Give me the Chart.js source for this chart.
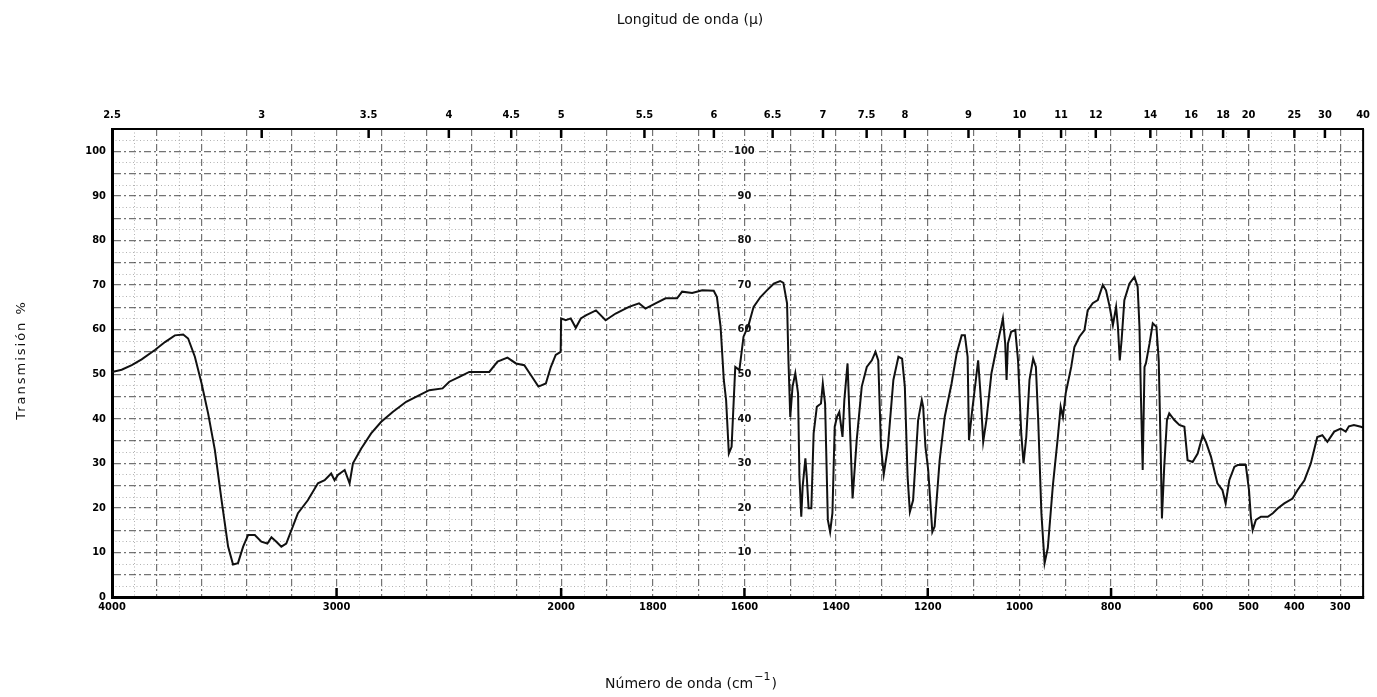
<!DOCTYPE html>
<html><head><meta charset="utf-8">
<script src="https://cdn.jsdelivr.net/npm/chart.js@4.4.1/dist/chart.umd.min.js"></script>
<style>html,body{margin:0;padding:0;background:#fff;}</style>
</head><body>
<canvas id="c" width="1377" height="697"></canvas>
<script>
// Wavenumber (cm-1) and % transmission
const wavenumbers = [4000,3957,3912,3868,3809,3764,3720,3683,3661,3631,3601,3572,3542,3512,3483,3461,3439,3416,3394,3364,3335,3308,3290,3268,3246,3224,3201,3172,3128,3083,3053,3024,3009,2994,2964,2942,2927,2890,2846,2801,2750,2690,2631,2587,2528,2498,2453,2409,2320,2283,2239,2201,2164,2135,2101,2068,2046,2024,2002,2000,1990,1979,1968,1957,1946,1924,1903,1881,1852,1830,1816,1794,1772,1747,1736,1714,1692,1667,1660,1652,1645,1640,1634,1628,1620,1611,1602,1591,1580,1565,1551,1536,1522,1515,1507,1504,1500,1495,1489,1483,1480,1476,1473,1467,1464,1460,1454,1449,1442,1433,1429,1424,1418,1413,1408,1403,1398,1393,1386,1382,1375,1369,1364,1355,1344,1333,1322,1314,1308,1302,1296,1287,1275,1264,1256,1250,1244,1239,1232,1221,1213,1210,1205,1199,1190,1185,1174,1163,1148,1137,1126,1119,1113,1110,1103,1096,1090,1084,1079,1072,1061,1050,1039,1036,1031,1028,1025,1018,1009,1003,996,991,985,978,970,964,959,952,945,938,927,916,910,905,899,887,880,869,858,851,840,829,818,811,803,796,789,785,781,777,771,760,749,742,738,735,731,727,724,716,709,701,696,692,689,684,678,673,662,651,640,633,622,611,600,593,582,568,557,550,542,531,524,506,499,495,491,484,473,458,447,436,422,404,393,378,364,350,339,328,313,299,288,281,270,255,250];
const transmission = [50.5,51.0,52.0,53.3,55.4,57.2,58.7,58.9,58.0,53.9,47.9,41.2,33.0,21.7,11.3,7.3,7.6,11.3,13.9,13.9,12.4,12.0,13.4,12.4,11.3,12.0,15.0,18.8,21.7,25.5,26.2,27.7,26.2,27.4,28.5,25.5,30.0,33.3,36.7,39.3,41.5,43.8,45.3,46.4,46.8,48.3,49.4,50.5,50.5,52.8,53.7,52.4,52.0,49.8,47.2,47.9,51.6,54.3,55.0,62.5,62.1,62.5,60.4,62.5,63.2,64.3,62.1,63.6,65.1,65.9,64.7,65.9,67.0,67.0,68.5,68.2,68.8,68.7,67.3,60.6,48.7,44.2,32.2,33.7,51.6,50.9,58.4,61.0,65.1,67.3,68.8,70.3,70.9,70.5,65.9,53.1,40.4,47.2,50.2,45.7,27.0,18.0,24.7,31.1,27.0,19.9,19.9,36.7,42.7,43.4,47.9,43.4,17.3,14.6,18.8,38.2,40.4,41.5,35.9,44.2,52.4,35.9,22.1,35.2,47.2,51.6,53.1,55.0,53.1,33.7,27.5,33.7,48.7,53.9,53.5,47.2,27.0,19.1,21.7,39.7,44.2,42.7,33.7,28.5,14.6,15.8,30.7,40.4,47.9,54.6,58.7,58.7,53.9,35.2,41.9,47.9,53.1,44.2,34.8,39.7,50.2,55.8,61.0,62.5,56.9,48.7,56.9,59.5,59.9,53.1,36.7,30.0,35.9,48.7,53.5,51.6,39.7,18.8,7.6,11.0,25.0,36.0,42.7,40.4,45.7,51.6,56.1,58.4,59.9,64.3,65.9,66.6,70.0,68.8,65.1,61.0,65.1,60.6,53.1,57.6,66.6,70.3,71.8,69.6,60.6,45.7,28.5,51.6,52.4,56.9,61.4,60.6,53.1,34.5,17.6,29.2,39.7,41.2,39.7,38.6,38.2,30.7,30.3,32.2,36.3,34.8,31.5,25.5,24.0,21.0,26.2,29.2,29.6,29.6,24.0,18.0,15.0,17.3,18.0,18.0,18.8,19.9,21.0,22.1,24.0,26.2,30.0,35.9,36.3,34.8,37.1,37.8,37.1,38.3,38.6,38.2,38.0];

const wnTickLabels = [4000,3000,2000,1800,1600,1400,1200,1000,800,600,500,400,300];
const umTickLabels = [2.5,3,3.5,4,4.5,5,5.5,6,6.5,7,7.5,8,9,10,11,12,14,16,18,20,25,30,40];
const yTickLabels = [0,10,20,30,40,50,60,70,80,90,100];
const innerYLabels = [10,20,30,40,50,60,70,80,90,100];

// chart paper: 4000-2000 compressed, 2000-250 expanded
function toAxis(w){ return w >= 2000 ? (4000 - w) * 0.49 : 980 + (2000 - w); }

const majorGridWn = [];
for (let w = 4000; w >= 2000; w -= 200) majorGridWn.push(w);
for (let w = 1900; w >= 300; w -= 100) majorGridWn.push(w);
const minorGridWn = [];
for (let w = 3900; w > 2000; w -= 200) minorGridWn.push(w);
for (let w = 1950; w > 250; w -= 100) minorGridWn.push(w);

const tickFont = {family: "'DejaVu Sans Condensed','Liberation Sans Narrow','DejaVu Sans',sans-serif", size: 11, weight: 'bold'};
const GRID = 'rgba(0,0,0,0.55)';

const paper = {
  id: 'paper',
  beforeDatasetsDraw(chart){
    const {ctx, chartArea: a, scales} = chart;
    const xs = scales.x, ys = scales.y;
    ctx.save();
    ctx.strokeStyle = 'rgba(0,0,0,0.30)';
    ctx.lineWidth = 1;
    ctx.setLineDash([1, 2.5]);
    minorGridWn.forEach(w => {
      const px = Math.round(xs.getPixelForValue(toAxis(w))) + 0.5;
      ctx.beginPath(); ctx.moveTo(px, a.top); ctx.lineTo(px, a.bottom); ctx.stroke();
    });
    for (let v = 2.5; v < 105; v += 5) {
      const py = Math.round(ys.getPixelForValue(v)) + 0.5;
      ctx.beginPath(); ctx.moveTo(a.left, py); ctx.lineTo(a.right, py); ctx.stroke();
    }
    ctx.setLineDash([]);
    // inner percentage column at 1600 cm-1
    const lx = xs.getPixelForValue(toAxis(1600));
    ctx.font = "bold 11px 'DejaVu Sans Condensed','DejaVu Sans',sans-serif";
    ctx.textAlign = 'center'; ctx.textBaseline = 'middle';
    innerYLabels.forEach(v => {
      const py = ys.getPixelForValue(v);
      const w = ctx.measureText(String(v)).width;
      ctx.fillStyle = '#fff';
      ctx.fillRect(lx - w/2 - 1, py - 6, w + 2, 12);
      ctx.fillStyle = '#111';
      ctx.fillText(String(v), lx, py);
    });
    ctx.restore();
  },
  afterDraw(chart){
    const {ctx, chartArea: a, scales} = chart;
    const xs = scales.x;
    ctx.save();
    ctx.strokeStyle = '#000';
    ctx.lineWidth = 2;
    ctx.beginPath(); ctx.moveTo(a.right, a.top); ctx.lineTo(a.right, a.bottom); ctx.stroke();
    // inward bold marks
    ctx.lineWidth = 2.5;
    umTickLabels.forEach(u => {
      const px = xs.getPixelForValue(toAxis(10000 / u));
      if (px <= a.left + 2 || px >= a.right - 2) return;
      ctx.beginPath(); ctx.moveTo(px, a.top); ctx.lineTo(px, a.top + 9); ctx.stroke();
    });
    [3000, 2000, 1600, 1200, 800].forEach(w => {
      const px = xs.getPixelForValue(toAxis(w));
      ctx.beginPath(); ctx.moveTo(px, a.bottom); ctx.lineTo(px, a.bottom - 9); ctx.stroke();
    });
    // titles
    ctx.fillStyle = '#111';
    ctx.textBaseline = 'middle';
    ctx.textAlign = 'center';
    ctx.font = "14px 'DejaVu Sans',sans-serif";
    ctx.fillText('Longitud de onda (\u03BC)', 690, 20);
    // bottom title with superscript
    const main = 'Número de onda (cm', sup = '\u22121', close = ')';
    ctx.font = "14px 'DejaVu Sans',sans-serif";
    const w1 = ctx.measureText(main).width, w3 = ctx.measureText(close).width;
    ctx.font = "11px 'DejaVu Sans',sans-serif";
    const w2 = ctx.measureText(sup).width;
    let x0 = 690 - (w1 + w2 + w3) / 2;
    ctx.textAlign = 'left';
    ctx.font = "14px 'DejaVu Sans',sans-serif";
    ctx.fillText(main, x0, 684);
    ctx.font = "11px 'DejaVu Sans',sans-serif";
    ctx.fillText(sup, x0 + w1 + 1, 677);
    ctx.font = "14px 'DejaVu Sans',sans-serif";
    ctx.fillText(close, x0 + w1 + w2 + 2, 684);
    // left title
    ctx.translate(22, 360);
    ctx.rotate(-Math.PI / 2);
    ctx.textAlign = 'center';
    ctx.font = "13px 'DejaVu Sans',sans-serif";
    try { ctx.letterSpacing = '2px'; } catch(e) {}
    ctx.fillText('Transmisión %', 0, 0);
    ctx.restore();
  }
};

new Chart(document.getElementById('c'), {
  type: 'scatter',
  data: {
    datasets: [{
      data: wavenumbers.map((w, i) => ({x: toAxis(w), y: transmission[i]})),
      showLine: true,
      borderColor: '#111',
      borderWidth: 2,
      pointRadius: 0,
      tension: 0,
      fill: false
    }]
  },
  options: {
    responsive: false,
    animation: false,
    devicePixelRatio: 1,
    layout: {padding: {left: 0, right: 13, top: 0, bottom: 0}},
    plugins: {legend: {display: false}, tooltip: {enabled: false}},
    scales: {
      x: {
        type: 'linear', position: 'bottom',
        min: toAxis(4000), max: toAxis(250),
        afterBuildTicks: s => { s.ticks = majorGridWn.map(w => ({value: toAxis(w)})); },
        afterFit: s => { s.height = 100; },
        ticks: {
          autoSkip: false, maxRotation: 0, padding: 4, color: '#000', font: tickFont,
          callback: (v, i) => { const w = majorGridWn[i]; return wnTickLabels.includes(w) ? String(w) : ''; }
        },
        grid: {color: GRID, lineWidth: 1.2, drawTicks: false},
        border: {display: true, color: '#000', width: 3, dash: [7, 3, 2, 3]}
      },
      x2: {
        type: 'linear', position: 'top',
        min: toAxis(4000), max: toAxis(250),
        afterBuildTicks: s => { s.ticks = umTickLabels.map(u => ({value: toAxis(10000 / u)})); },
        afterFit: s => { s.height = 129; },
        ticks: {
          autoSkip: false, maxRotation: 0, padding: 7, color: '#000', font: tickFont,
          callback: (v, i) => String(umTickLabels[i])
        },
        grid: {drawOnChartArea: false, drawTicks: false},
        border: {display: true, color: '#000', width: 2}
      },
      y: {
        type: 'linear', position: 'left',
        min: 0, max: 105,
        afterBuildTicks: s => { const t = []; for (let v = 0; v <= 100; v += 5) t.push({value: v}); s.ticks = t; },
        afterFit: s => { s.width = 112; },
        ticks: {
          autoSkip: false, padding: 6, color: '#000', font: tickFont,
          callback: v => yTickLabels.includes(v) ? String(v) : ''
        },
        grid: {color: GRID, lineWidth: 1.2, drawTicks: false},
        border: {display: true, color: '#000', width: 3, dash: [7, 3, 2, 3]}
      }
    }
  },
  plugins: [paper]
});
</script>
</body></html>
